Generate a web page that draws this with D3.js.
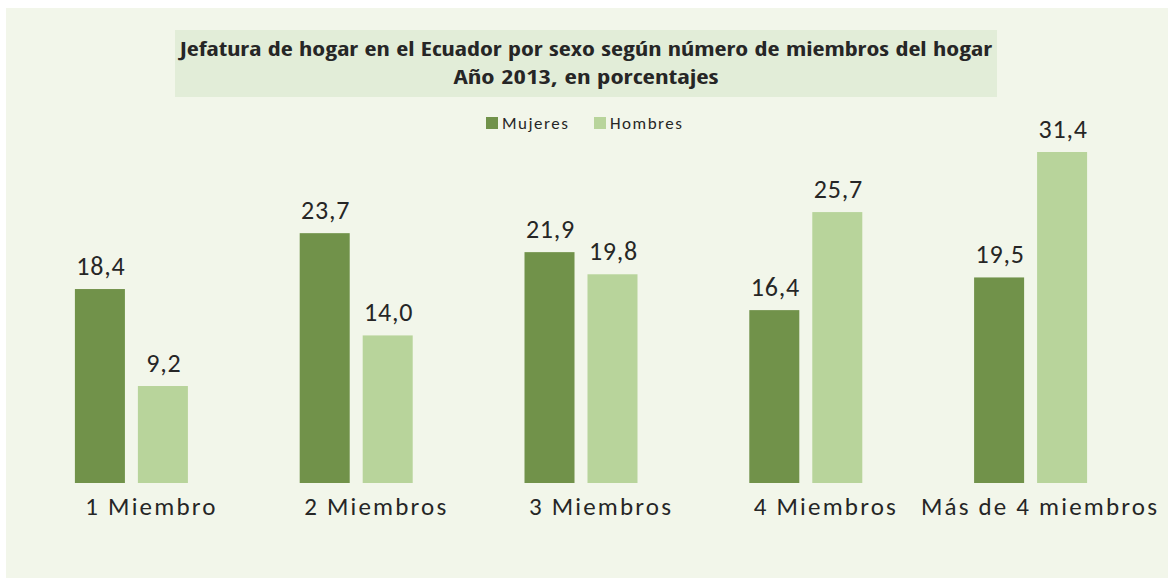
<!DOCTYPE html>
<html><head><meta charset="utf-8">
<script src="https://cdn.jsdelivr.net/npm/d3@7"></script>
<style>html,body{margin:0;padding:0;background:#fff;}svg{display:block;}</style>
</head><body>
<script>
const categories = ["1 Miembro", "2 Miembros", "3 Miembros", "4 Miembros", "Más de 4 miembros"];
const seriesNames = ["Mujeres", "Hombres"];
const mujeres = [18.4, 23.7, 21.9, 16.4, 19.5];
const hombres = [9.2, 14.0, 19.8, 25.7, 31.4];
const titleLines = ["Jefatura de hogar en el Ecuador por sexo según número de miembros del hogar", "Año 2013, en porcentajes"];
const colors = ["#71924a", "#b8d49b"];

const W = 1170, H = 578;
const svg = d3.select("body").append("svg").attr("width", W).attr("height", H);
svg.append("rect").attr("x", 6).attr("y", 8).attr("width", 1162).attr("height", 570).attr("fill", "#f2f6ea");
svg.append("rect").attr("x", 175).attr("y", 30).attr("width", 822).attr("height", 67).attr("fill", "#e2edd8");
const fontBody = "Carlito, Calibri, 'Open Sans', Lato, sans-serif";
svg.selectAll("text.title").data(titleLines).enter().append("text")
  .attr("x", 586).attr("y", (d, i) => 56 + i * 28)
  .attr("text-anchor", "middle").attr("font-family", "'Open Sans Condensed', 'Liberation Sans Narrow', 'Open Sans', sans-serif")
  .attr("font-weight", "bold").attr("font-size", 20).attr("fill", "#262626")
  .attr("textLength", (d, i) => i === 0 ? 812 : 265).attr("lengthAdjust", "spacingAndGlyphs")
  .text(d => d);

const x0 = d3.scaleBand().domain(categories).range([19, 1143]).paddingInner(0).paddingOuter(0);
const x1 = d3.scaleBand().domain(seriesNames).range([0, 113]).paddingInner(0.206);
const y = d3.scaleLinear().domain([0, 31.4]).range([483, 152]);

const data = categories.map((c, i) => ({cat: c, vals: [mujeres[i], hombres[i]]}));
const groups = svg.selectAll("g.grp").data(data).enter().append("g")
  .attr("transform", d => `translate(${x0(d.cat) + (x0.bandwidth() - 113) / 2},0)`);
groups.selectAll("rect").data(d => d.vals.map((v, j) => ({s: seriesNames[j], v, j}))).enter().append("rect")
  .attr("x", d => x1(d.s)).attr("width", x1.bandwidth())
  .attr("y", d => y(d.v)).attr("height", d => y(0) - y(d.v))
  .attr("fill", d => colors[d.j]);
groups.selectAll("text").data(d => d.vals.map((v, j) => ({s: seriesNames[j], v, j}))).enter().append("text")
  .attr("x", d => x1(d.s) + x1.bandwidth() / 2 + 1).attr("y", d => y(d.v) - 14)
  .attr("text-anchor", "middle").attr("font-family", fontBody).attr("font-size", 26).attr("fill", "#262626")
  .attr("letter-spacing", 0.8)
  .text(d => d.v.toFixed(1).replace(".", ","));

const rightLimit = 1157;
svg.selectAll("text.cat").data(categories).enter().append("text")
  .attr("class", "cat").attr("y", 515)
  .attr("text-anchor", "start").attr("font-family", fontBody).attr("font-size", 25).attr("fill", "#262626")
  .attr("letter-spacing", 2.2)
  .text(d => d)
  .each(function(d) {
    const w = this.getComputedTextLength() - 2.2;
    let left = x0(d) + x0.bandwidth() / 2 + 19 - w / 2;
    if (left + w > rightLimit) left = rightLimit - w;
    d3.select(this).attr("x", left);
  });

const legend = svg.append("g");
const legX = [486, 594];
seriesNames.forEach((s, i) => {
  legend.append("rect").attr("x", legX[i]).attr("y", 117).attr("width", 12).attr("height", 12).attr("fill", colors[i]);
  legend.append("text").attr("x", legX[i] + 16).attr("y", 129).attr("font-family", fontBody).attr("font-size", 17)
    .attr("letter-spacing", 1.5).attr("fill", "#262626").text(s);
});
</script>
</body></html>
